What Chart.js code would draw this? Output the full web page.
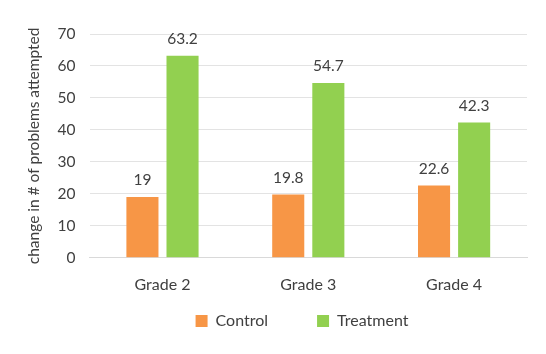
<!DOCTYPE html>
<html>
<head>
<meta charset="utf-8">
<script src="https://cdn.jsdelivr.net/npm/chart.js@4/dist/chart.umd.min.js"></script>
<style>
  html, body { margin: 0; padding: 0; background: #fff; }
  #wrap { width: 546px; height: 354px; }
</style>
</head>
<body>
<div id="wrap"><canvas id="myChart" width="546" height="354"></canvas></div>
<script>
const grades = ["Grade 2", "Grade 3", "Grade 4"];
const controlValues = [19, 19.8, 22.6];
const treatmentValues = [63.2, 54.7, 42.3];
const yTicks = [0, 10, 20, 30, 40, 50, 60, 70];

const fontFamily = "Lato, 'Open Sans', sans-serif";
const textColor = "#404040";

// writes each bar's value above it
const valueLabels = {
  id: "valueLabels",
  afterDatasetsDraw(chart) {
    const ctx = chart.ctx;
    ctx.save();
    ctx.font = "15.5px " + fontFamily;
    ctx.fillStyle = textColor;
    ctx.textAlign = "center";
    ctx.textBaseline = "bottom";
    chart.data.datasets.forEach(function (ds, i) {
      chart.getDatasetMeta(i).data.forEach(function (bar, j) {
        ctx.fillText(String(ds.data[j]), bar.x, bar.y - 9);
      });
    });
    ctx.restore();
  },
};

// the legend padding also spaces the items apart, so move the legend up
// and centre it under the plot instead of the whole canvas
const legendShift = {
  id: "legendShift",
  afterLayout(chart) {
    const lg = chart.legend;
    lg.top -= 47;
    lg.bottom -= 47;
    lg.left += 28;
    lg.right += 28;
  },
};

const ctx = document.getElementById("myChart").getContext("2d");
const myChart = new Chart(ctx, {
  type: "bar",
  data: {
    labels: grades,
    datasets: [
      {
        label: "Control",
        data: controlValues,
        backgroundColor: "#F79646",
        barPercentage: 0.8,
        categoryPercentage: 0.55,
      },
      {
        label: "Treatment",
        data: treatmentValues,
        backgroundColor: "#92D050",
        barPercentage: 0.8,
        categoryPercentage: 0.55,
      },
    ],
  },
  options: {
    responsive: false,
    animation: false,
    layout: { padding: { top: 34, right: 19, left: 21, bottom: -32 } },
    plugins: {
      legend: {
        position: "bottom",
        labels: {
          boxWidth: 12,
          boxHeight: 12,
          padding: 49,
          color: textColor,
          font: { family: fontFamily, size: 16 },
        },
      },
      tooltip: { enabled: false },
    },
    scales: {
      x: {
        grid: { display: false, drawTicks: false },
        border: { color: "#d9d9d9" },
        ticks: {
          color: textColor,
          padding: 17,
          font: { family: fontFamily, size: 16 },
        },
      },
      y: {
        min: 0,
        max: 70,
        afterBuildTicks: function (axis) {
          axis.ticks = yTicks.map(function (v) { return { value: v }; });
        },
        grid: { color: "#e3e3e3", drawTicks: false },
        border: { display: false },
        ticks: {
          color: textColor,
          padding: 14,
          font: { family: fontFamily, size: 15.5 },
        },
        title: {
          display: true,
          text: "change in # of problems attempted",
          color: textColor,
          padding: { bottom: 0 },
          font: { family: fontFamily, size: 15.5 },
        },
      },
    },
  },
  plugins: [valueLabels, legendShift],
});
</script>
</body>
</html>
